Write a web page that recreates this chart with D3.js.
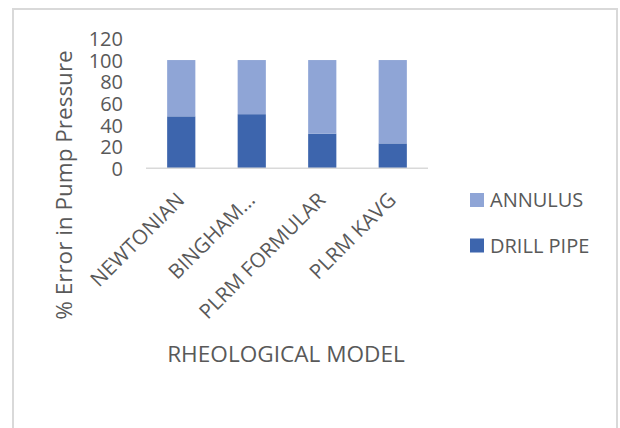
<!DOCTYPE html>
<html>
<head>
<meta charset="utf-8">
<script src="https://cdn.jsdelivr.net/npm/d3@7"></script>
<style>
  html, body { margin: 0; padding: 0; background: #fff; }
  svg { display: block; }
  text { font-family: "Open Sans", "Liberation Sans", sans-serif; fill: #595959; }
</style>
</head>
<body>
<script>
// Pump pressure error split between drill pipe and annulus, per rheological model
const categories = ["NEWTONIAN", "BINGHAM...", "PLRM FORMULAR", "PLRM KAVG"];
const drillPipe = [48, 50, 32, 23];
const annulus = [52, 50, 68, 77];
const yTicks = [0, 20, 40, 60, 80, 100, 120];
const seriesNames = ["ANNULUS", "DRILL PIPE"];

const W = 620, H = 428;
const colors = { "DRILL PIPE": "#3d65ad", "ANNULUS": "#8fa5d6" };

const svg = d3.select("body").append("svg").attr("width", W).attr("height", H);

// chart area frame
svg.append("rect")
  .attr("x", 13).attr("y", 9).attr("width", 604).attr("height", 430)
  .attr("fill", "#fff").attr("stroke", "#d9d9d9").attr("stroke-width", 2);

const plot = { left: 146, right: 428, top: 38.4, bottom: 168.3 };

const x = d3.scaleBand().domain(categories)
  .range([plot.left, plot.right]).paddingInner(0.6).paddingOuter(0.3);
const y = d3.scaleLinear().domain([0, 120]).range([plot.bottom, plot.top]);

const rows = categories.map((c, i) => ({ cat: c, "DRILL PIPE": drillPipe[i], "ANNULUS": annulus[i] }));
const stacked = d3.stack().keys(["DRILL PIPE", "ANNULUS"])(rows);

svg.append("g").selectAll("g").data(stacked).join("g")
  .attr("fill", d => colors[d.key])
  .selectAll("rect").data(d => d).join("rect")
  .attr("x", d => x(d.data.cat))
  .attr("width", x.bandwidth())
  .attr("y", d => y(d[1]))
  .attr("height", d => y(d[0]) - y(d[1]));

// category axis line
svg.append("line")
  .attr("x1", plot.left).attr("x2", plot.right)
  .attr("y1", y(0)).attr("y2", y(0))
  .attr("stroke", "#d9d9d9").attr("stroke-width", 1.5);

// value axis labels
const yAxis = d3.axisLeft(y).tickValues(yTicks).tickSize(0).tickPadding(0);
const yg = svg.append("g").attr("transform", "translate(123,0)").call(yAxis);
yg.select(".domain").remove();
yg.selectAll("text").style("font-size", "20px").attr("fill", "#595959")
  .attr("font-family", "Open Sans").attr("dy", "0.36em");

// rotated category labels
const xAxis = d3.axisBottom(x).tickSize(0).tickPadding(0);
const xg = svg.append("g").attr("transform", `translate(0,${y(0)})`).call(xAxis);
xg.select(".domain").remove();
xg.selectAll("text")
  .style("font-size", "20.5px").attr("fill", "#595959").attr("font-family", "Open Sans")
  .attr("text-anchor", "end").attr("dy", 0).attr("y", 0)
  .attr("transform", "translate(4.5,33) rotate(-45)");

// axis titles
svg.append("text")
  .attr("transform", `translate(72,185) rotate(-90)`)
  .attr("text-anchor", "middle")
  .style("font-size", "22.5px")
  .text("% Error in Pump Pressure");

svg.append("text")
  .attr("x", 286).attr("y", 362)
  .attr("text-anchor", "middle")
  .style("font-size", "22.6px")
  .text("RHEOLOGICAL MODEL");

// legend
const legend = svg.append("g").selectAll("g").data(seriesNames).join("g")
  .attr("transform", (d, i) => `translate(470,${193 + i * 45.5})`);
legend.append("rect").attr("width", 14).attr("height", 14).attr("fill", d => colors[d]);
legend.append("text").attr("x", 20).attr("y", 7).attr("dy", "0.36em")
  .style("font-size", "20px").text(d => d);
</script>
</body>
</html>
